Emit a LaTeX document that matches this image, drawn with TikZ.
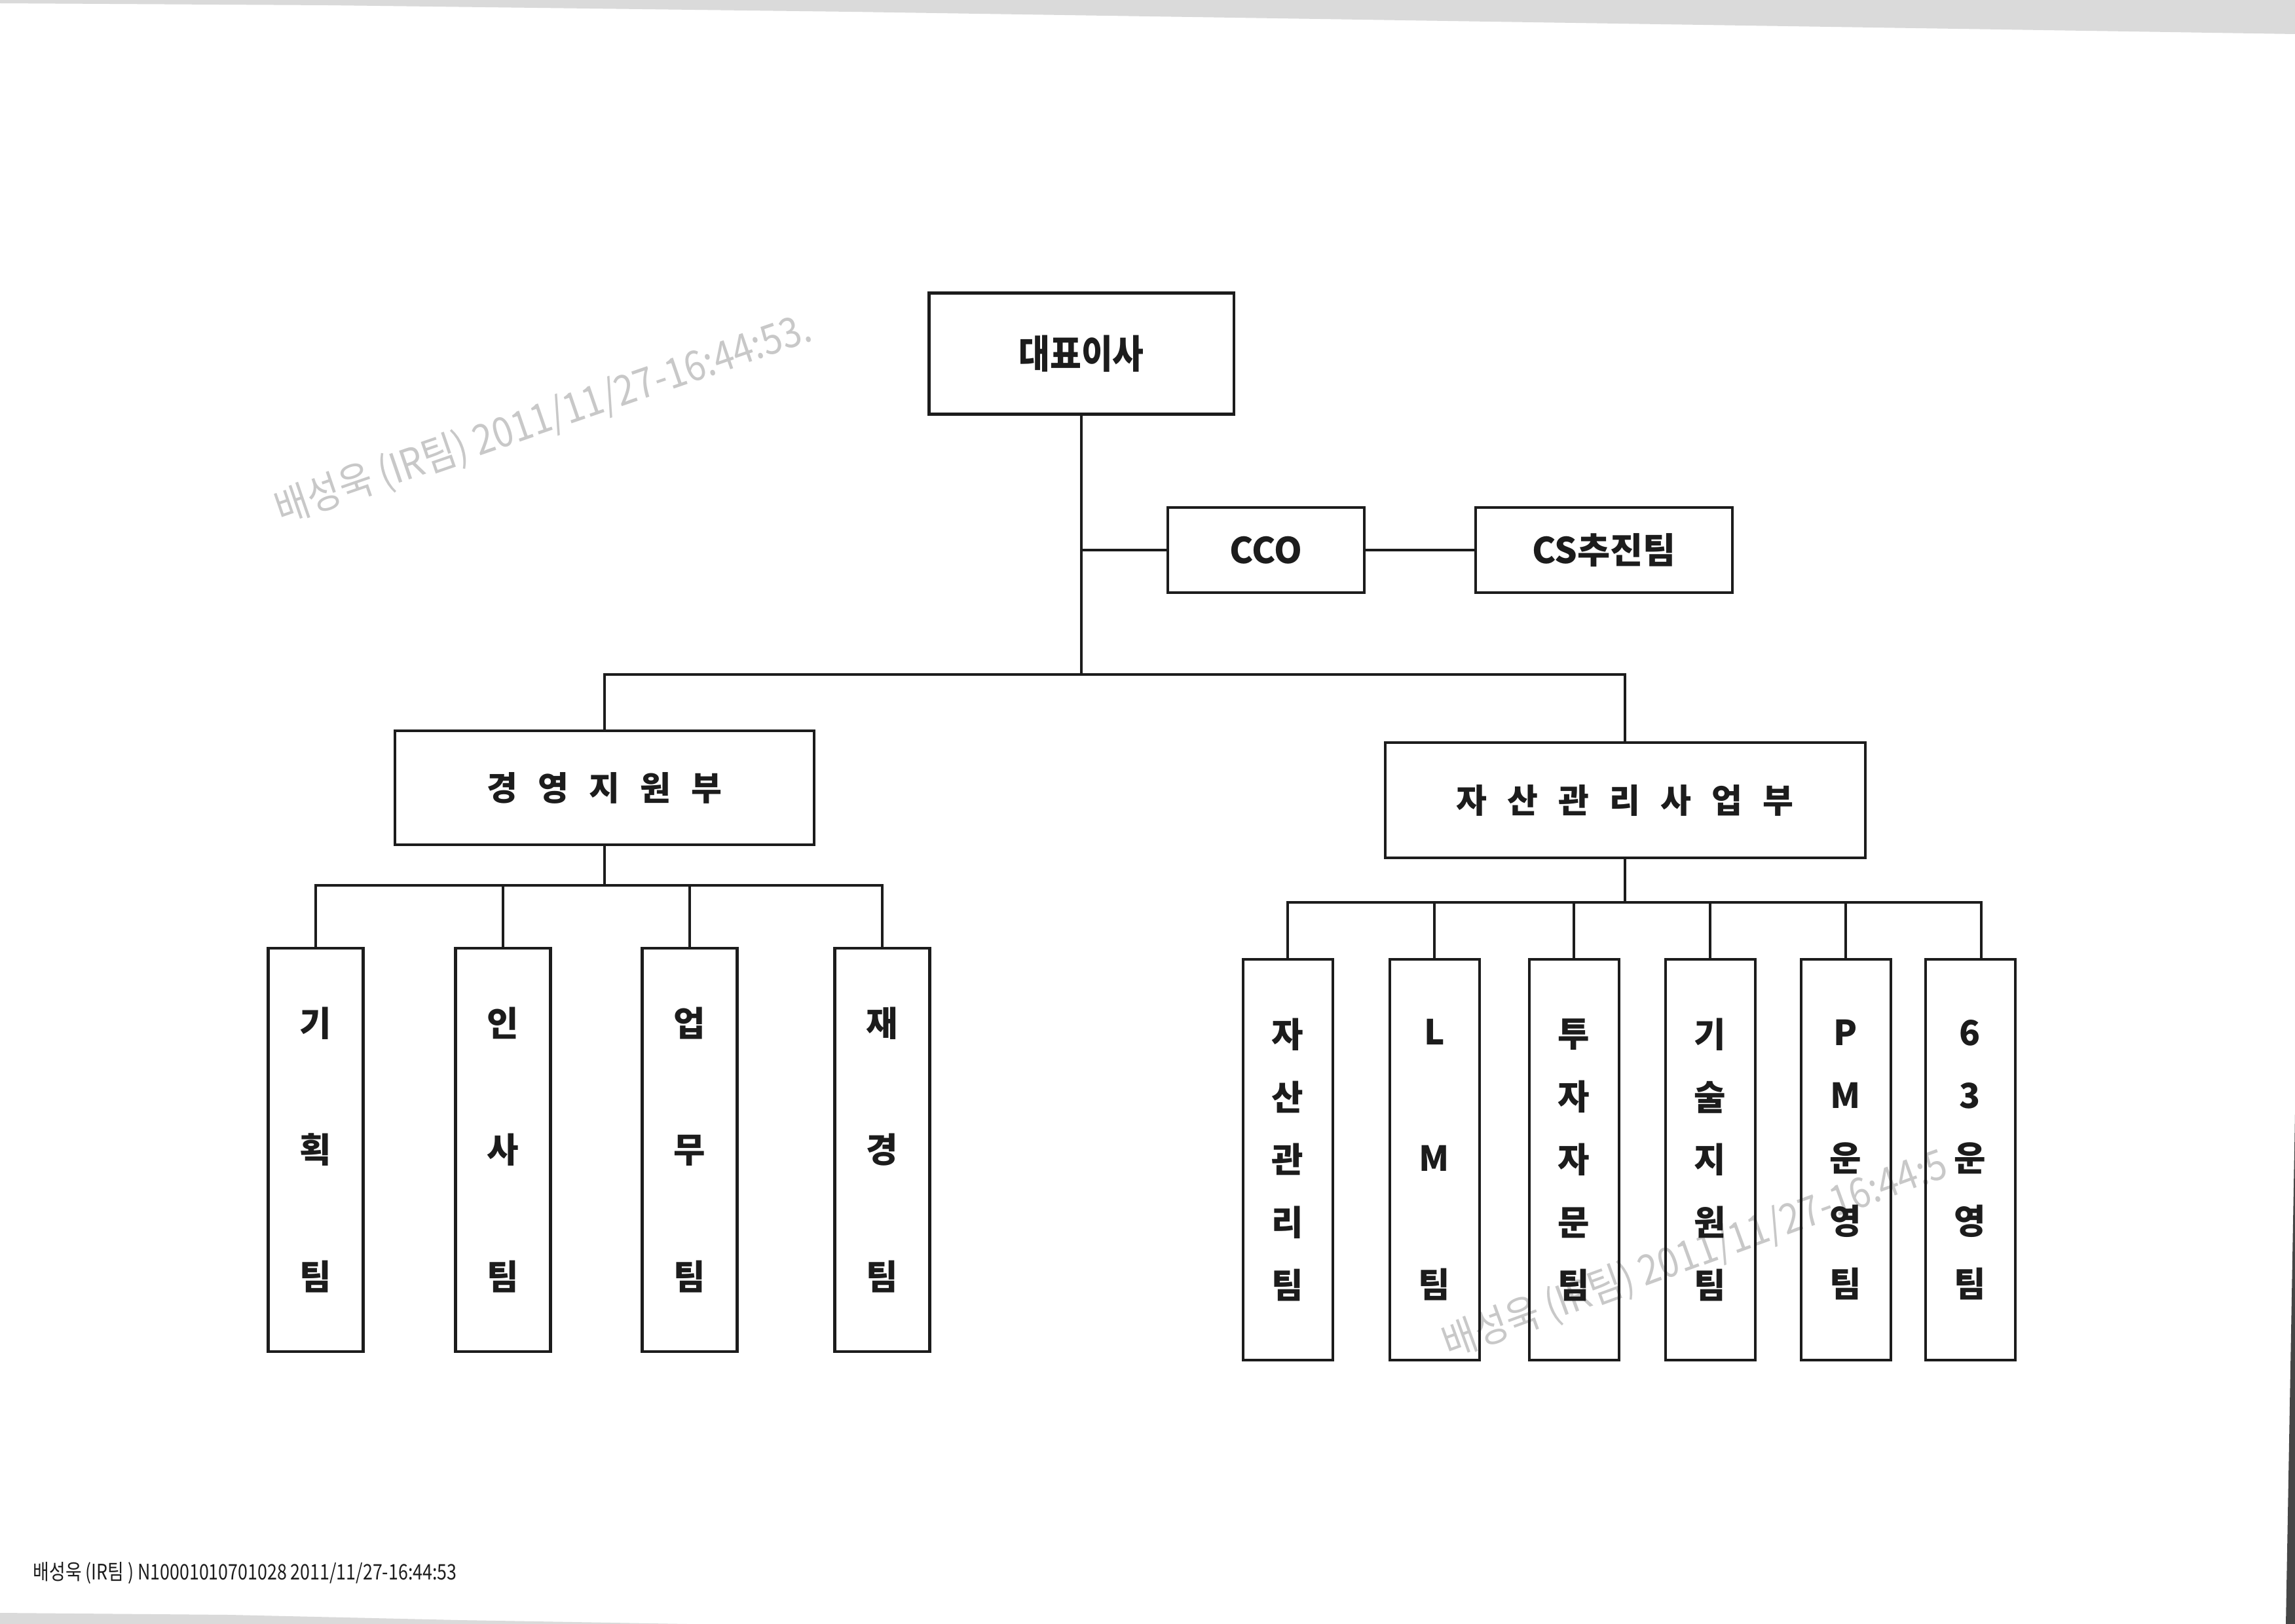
\documentclass[tikz,border=0pt]{standalone}
\usepackage{fontspec}
\usepackage{xcolor}
\usepackage{tikz}
\newfontfamily\kr{Noto Sans CJK KR}
\newfontfamily\krhead[FakeStretch=0.87]{Noto Sans CJK KR}
\newfontfamily\krnarrow[FakeStretch=0.82]{Noto Sans CJK KR}
\newfontfamily\krstamp[FakeStretch=0.88]{Noto Sans CJK KR}
\definecolor{orgink}{RGB}{28,28,28}
\definecolor{orgmark}{RGB}{200,200,200}
\definecolor{orgpaper}{RGB}{218,218,218}
\definecolor{orgedge}{RGB}{70,70,70}
\newcommand{\kgap}{\hspace{0.31cm}}

\begin{document}
\begin{tikzpicture}[
        orgbox/.style={draw=orgink, line width=1.15pt, inner sep=0pt, text=orgink,
                       font=\kr\bfseries\fontsize{15.5}{18}\selectfont},
        link/.style={draw=orgink, line width=1.1pt},
        lteam/.style={orgbox, minimum width=1.45cm, minimum height=6.16cm, align=center},
        rteam/.style={orgbox, minimum width=1.37cm, minimum height=6.12cm, align=center},
        sparse/.style={font=\kr\bfseries\fontsize{15}{55}\selectfont},
        dense/.style={font=\kr\bfseries\fontsize{15}{27.3}\selectfont},
        stamp/.style={text=orgmark, inner sep=0pt,
                      font=\krstamp\fontsize{18}{20}\selectfont}
    ]
        \fill[white] (0,0) rectangle (35.04,-24.80);
        \useasboundingbox (0,0) rectangle (35.04,-24.80);
        \fill[orgpaper] (0,0) -- (35.04,0) -- (35.04,-0.52) -- (32.5,-0.48) -- (13,-0.18)
            -- (5,-0.08) -- (0,-0.05) -- cycle;
        \fill[orgpaper] (0,-24.63) -- (3.5,-24.66) -- (7,-24.74) -- (10.5,-24.80) -- (0,-24.80) -- cycle;
        \fill[orgedge] (35.04,-17.0) -- (35.04,-24.80) -- (34.90,-24.80) -- cycle;

        \node[stamp, rotate=19] (wm1) at (8.30,-6.41) {배성욱 (IR팀) 2011/11/27-16:44:53.};
        \node[stamp, rotate=20] (wm2) at (25.88,-19.16) {배성욱 (IR팀) 2011/11/27-16:44:5};
        \node[anchor=west, inner sep=0pt, text=orgink,
              font=\krnarrow\fontsize{9.3}{11}\selectfont] (foot) at (0.50,-24.02)
              {배성욱 (IR팀 ) N10001010701028 2011/11/27-16:44:53};

        \node[orgbox, minimum width=4.65cm, minimum height=1.85cm,
              font=\krhead\bfseries\fontsize{17}{20}\selectfont] (ceo) at (16.51,-5.40) {대표이사};
        \node[orgbox, minimum width=3.00cm, minimum height=1.30cm] (cco) at (19.33,-8.40) {CCO};
        \node[orgbox, minimum width=3.92cm, minimum height=1.30cm] (cs) at (24.49,-8.40) {CS추진팀};
        \node[orgbox, minimum width=6.40cm, minimum height=1.74cm,
              font=\kr\bfseries\fontsize{14.5}{18}\selectfont] (mgmt) at (9.23,-12.03)
              {경\kgap 영\kgap 지\kgap 원\kgap 부};
        \node[orgbox, minimum width=7.33cm, minimum height=1.76cm,
              font=\kr\bfseries\fontsize{14.5}{18}\selectfont] (asset) at (24.81,-12.22)
              {자\kgap 산\kgap 관\kgap 리\kgap 사\kgap 업\kgap 부};

        \node[lteam, sparse] (plan) at (4.82,-17.56) {기\\획\\팀};
        \node[lteam, sparse] (hr) at (7.68,-17.56) {인\\사\\팀};
        \node[lteam, sparse] (ops) at (10.53,-17.56) {업\\무\\팀};
        \node[lteam, sparse] (fin) at (13.47,-17.56) {재\\경\\팀};

        \node[rteam, dense] (am) at (19.66,-17.71) {자\\산\\관\\리\\팀};
        \node[rteam, sparse] (lm) at (21.90,-17.71) {L\\M\\팀};
        \node[rteam, dense] (adv) at (24.03,-17.71) {투\\자\\자\\문\\팀};
        \node[rteam, dense] (tech) at (26.11,-17.71) {기\\술\\지\\원\\팀};
        \node[rteam, dense] (pm) at (28.18,-17.71) {P\\M\\운\\영\\팀};
        \node[rteam, dense] (op63) at (30.08,-17.71) {6\\3\\운\\영\\팀};

        \coordinate (hub) at (ceo.south |- 0,-10.30);
        \draw[link] (ceo.south) -- (hub);
        \draw[link] (ceo.south |- cco.west) -- (cco.west);
        \draw[link] (cco.east) -- (cs.west);
        \draw[link] (mgmt.north) |- (hub) -| (asset.north);

        \coordinate (lbar) at (mgmt.south |- 0,-13.52);
        \draw[link] (mgmt.south) -- (lbar);
        \draw[link] (plan.north) |- (lbar) -| (fin.north);
        \foreach \t in {hr,ops} \draw[link] (\t.north) -- (\t.north |- lbar);

        \coordinate (rbar) at (asset.south |- 0,-13.78);
        \coordinate (rend) at (30.25,-13.78);
        \draw[link] (asset.south) -- (rbar);
        \draw[link] (am.north) |- (rend) -- (rend |- op63.north);
        \foreach \t in {lm,adv,tech,pm} \draw[link] (\t.north) -- (\t.north |- rbar);
\end{tikzpicture}
\end{document}
